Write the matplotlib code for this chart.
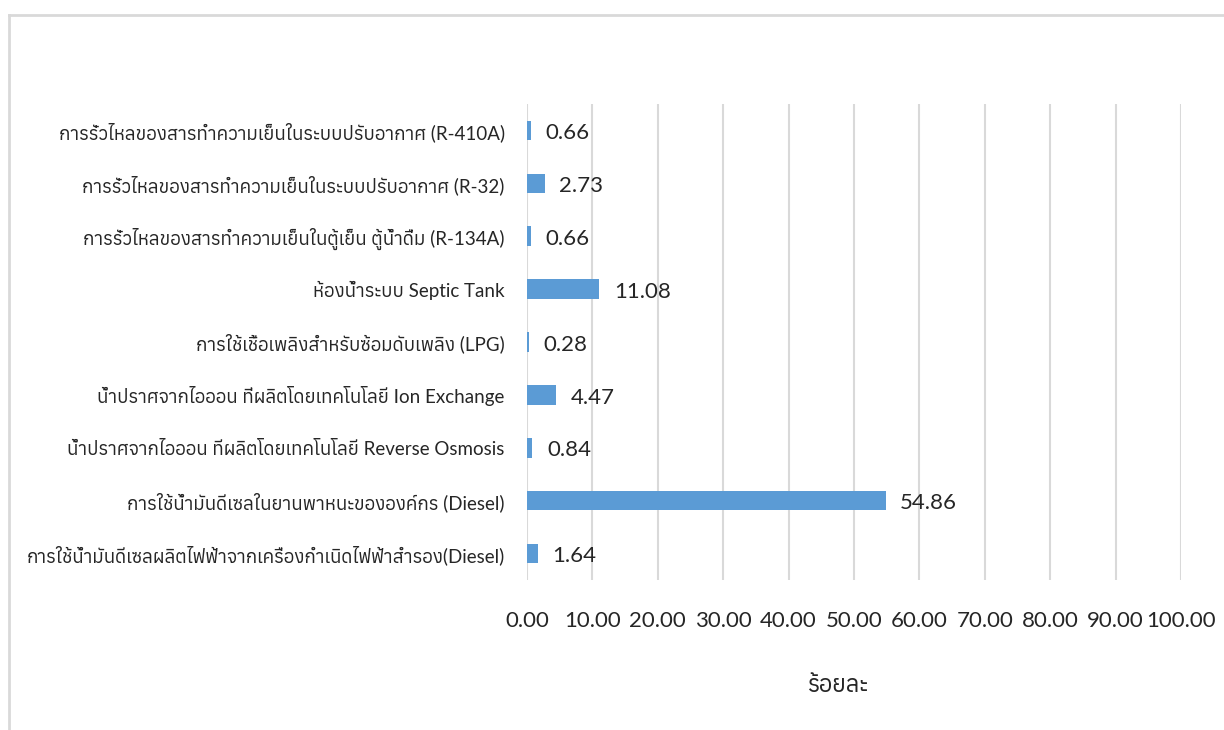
import matplotlib
matplotlib.use("Agg")
import matplotlib.pyplot as plt
from matplotlib.lines import Line2D

categories = [
    "การรั่วไหลของสารทำความเย็นในระบบปรับอากาศ (R-410A)",
    "การรั่วไหลของสารทำความเย็นในระบบปรับอากาศ (R-32)",
    "การรั่วไหลของสารทำความเย็นในตู้เย็น ตู้น้ำดื่ม (R-134A)",
    "ห้องน้ำระบบ Septic Tank",
    "การใช้เชื้อเพลิงสำหรับซ้อมดับเพลิง (LPG)",
    "น้ำปราศจากไอออน ที่ผลิตโดยเทคโนโลยี Ion Exchange",
    "น้ำปราศจากไอออน ทีผลิตโดยเทคโนโลยี Reverse Osmosis",
    "การใช้น้ำมันดีเซลในยานพาหนะขององค์กร (Diesel)",
    "การใช้น้ำมันดีเซลผลิตไฟฟ้าจากเครื่องกำเนิดไฟฟ้าสำรอง(Diesel)",
]
values = [0.66, 2.73, 0.66, 11.08, 0.28, 4.47, 0.84, 54.86, 1.64]
xticks = [0, 10, 20, 30, 40, 50, 60, 70, 80, 90, 100]

plt.rcParams["font.family"] = ["Lato", "Anuphan", "DejaVu Sans"]
txt = "#262626"

fig = plt.figure(figsize=(12.24, 7.30), dpi=100)
ax = fig.add_axes([527/1224, 1-580/730, (1181-527)/1224, (580-104)/730])

ypos = list(range(len(categories)))[::-1]
ax.barh(ypos, values, height=0.37, color="#5b9bd5")
for y, v in zip(ypos, values):
    ax.text(v + 2.2, y - 0.05, "%.2f" % v, va="center", ha="left", fontsize=16, color=txt)

ax.set_xlim(0, 100)
ax.set_ylim(-0.5, len(categories) - 0.5)
ax.set_xticks(xticks)
ax.set_xticklabels(["%.2f" % t for t in xticks], fontsize=16, color=txt)
ax.set_yticks(ypos)
ax.set_yticklabels(categories, fontsize=13.5, color=txt)
ax.tick_params(axis="x", length=0, pad=22)
ax.tick_params(axis="y", length=0, pad=16)
ax.xaxis.grid(True, color="#d9d9d9", linewidth=1.5)
ax.set_axisbelow(True)
for s in ax.spines.values():
    s.set_visible(False)
ax.set_xlabel("ร้อยละ", fontsize=17, labelpad=32, color=txt)
ax.xaxis.label.set_x(0.475)

# chart frame (left and top edges visible)
fig.add_artist(Line2D([9/1224, 9/1224], [0, 1-15/730], color="#d9d9d9", linewidth=2))
fig.add_artist(Line2D([9/1224, 1], [1-15/730, 1-15/730], color="#d9d9d9", linewidth=2))

fig.savefig("out.png", dpi=100)
